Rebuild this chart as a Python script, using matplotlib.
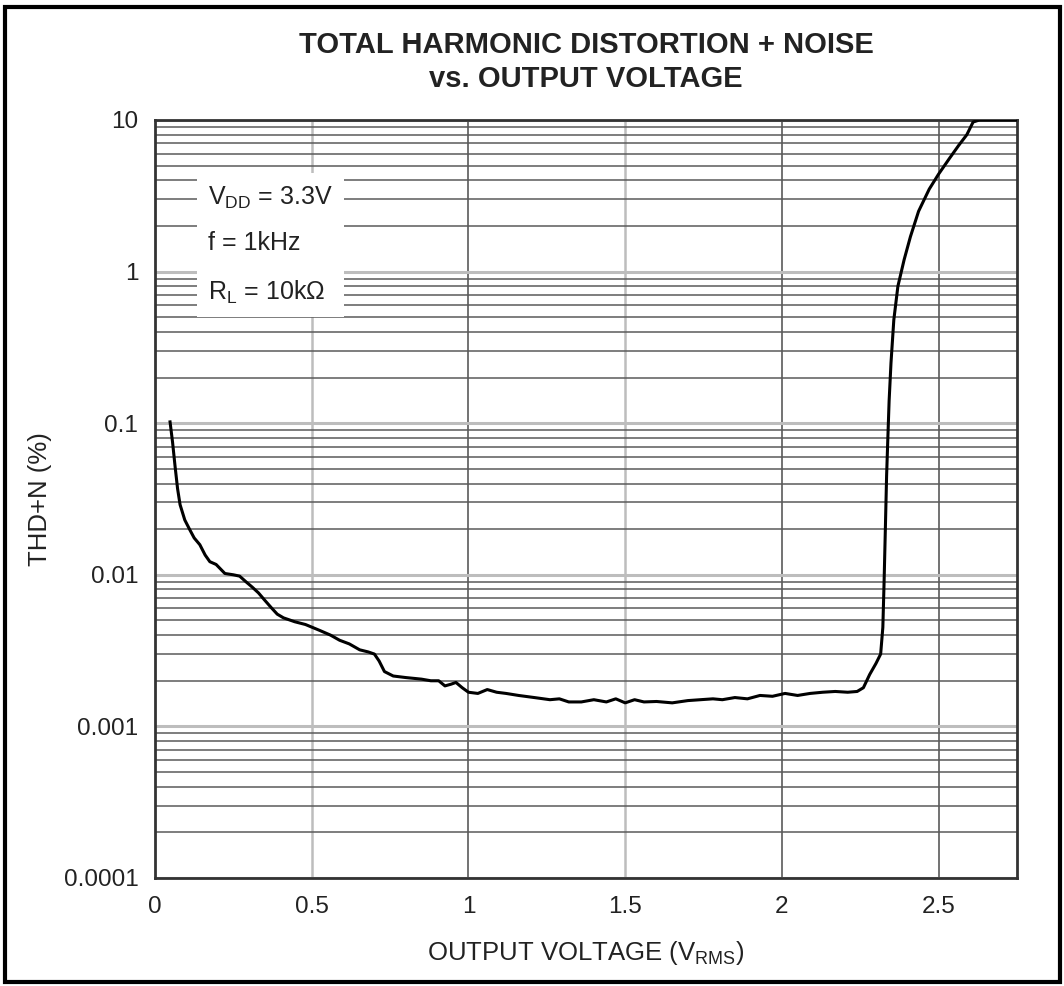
import numpy as np
import matplotlib
matplotlib.use('Agg')
import matplotlib.pyplot as plt
from matplotlib.patches import Rectangle
from matplotlib.ticker import LogLocator, NullFormatter, FixedLocator

plt.rcParams['font.family'] = ['Liberation Sans', 'DejaVu Sans']
plt.rcParams['mathtext.fontset'] = 'custom'
plt.rcParams['mathtext.rm'] = 'Liberation Sans'

# ---- data ----
vout = [0.048, 0.056, 0.064, 0.072, 0.08, 0.095, 0.11, 0.125, 0.143, 0.16, 0.175,
        0.195, 0.223, 0.25, 0.27, 0.29, 0.31, 0.33, 0.35, 0.37, 0.39, 0.41, 0.446,
        0.48, 0.525, 0.56, 0.589, 0.62, 0.653, 0.68, 0.70, 0.715, 0.732, 0.76, 0.80,
        0.85, 0.88, 0.905, 0.925, 0.945, 0.96, 0.98, 1.0, 1.03, 1.06, 1.09, 1.12,
        1.16, 1.21, 1.26, 1.29, 1.32, 1.36, 1.40, 1.44, 1.47, 1.50, 1.53, 1.56,
        1.60, 1.65, 1.70, 1.74, 1.78, 1.81, 1.85, 1.89, 1.93, 1.97, 2.01, 2.05,
        2.09, 2.13, 2.17, 2.21, 2.24, 2.26, 2.28, 2.30, 2.315, 2.322, 2.326,
        2.330, 2.334, 2.338, 2.342, 2.348, 2.357, 2.37, 2.39, 2.41, 2.436, 2.47,
        2.50, 2.535, 2.564, 2.59, 2.61, 2.63, 2.75]
thdn = [0.102, 0.075, 0.052, 0.037, 0.029, 0.023, 0.020, 0.0175, 0.0158, 0.0135,
        0.0122, 0.0117, 0.0102, 0.0100, 0.0098, 0.0090, 0.0083, 0.0076, 0.0068,
        0.0061, 0.0055, 0.0052, 0.0049, 0.0047, 0.0043, 0.0040, 0.0037, 0.0035,
        0.0032, 0.0031, 0.0030, 0.0027, 0.0023, 0.00215, 0.0021, 0.00205, 0.0020,
        0.0020, 0.00185, 0.0019, 0.00195, 0.0018, 0.00168, 0.00165, 0.00175,
        0.00168, 0.00165, 0.0016, 0.00155, 0.0015, 0.00152, 0.00145, 0.00145,
        0.0015, 0.00145, 0.00152, 0.00143, 0.0015, 0.00145, 0.00146, 0.00143,
        0.00148, 0.0015, 0.00152, 0.0015, 0.00155, 0.00152, 0.0016, 0.00158,
        0.00165, 0.0016, 0.00165, 0.00168, 0.0017, 0.00168, 0.0017, 0.0018,
        0.0022, 0.0026, 0.0030, 0.0045, 0.009, 0.02, 0.045, 0.08, 0.14, 0.25,
        0.48, 0.80, 1.2, 1.7, 2.5, 3.5, 4.4, 5.6, 6.8, 8.0, 9.7, 10.0, 10.0]

xticks = [0, 0.5, 1, 1.5, 2, 2.5]
xtick_labels = ['0', '0.5', '1', '1.5', '2', '2.5']
yticks = [0.0001, 0.001, 0.01, 0.1, 1, 10]
ytick_labels = ['0.0001', '0.001', '0.01', '0.1', '1', '10']

fig = plt.figure(figsize=(10.64, 9.86), dpi=100)
fig.patch.set_facecolor('white')
ax = fig.add_axes([155 / 1064, 1 - 878 / 986, (1017 - 155) / 1064, (878 - 120) / 986])

ax.set_yscale('log')
ax.set_xlim(0, 2.75)
ax.set_ylim(0.0001, 10)

# grid
ax.yaxis.set_major_locator(FixedLocator(yticks))
ax.yaxis.set_minor_locator(LogLocator(base=10, subs=np.arange(2, 10)))
ax.yaxis.set_minor_formatter(NullFormatter())
ax.grid(which='major', axis='y', color='#bdbdbd', lw=2.2)
ax.grid(which='minor', axis='y', color='#5a5a5a', lw=1.1)
vcolors = ['#bdbdbd', '#5a5a5a', '#bdbdbd', '#5a5a5a', '#5a5a5a']
for xv, c in zip(xticks[1:], vcolors):
    ax.axvline(xv, color=c, lw=1.8 if c == '#bdbdbd' else 1.2, zorder=0.5)

ax.plot(vout, thdn, color='black', lw=2.2, zorder=3)

ax.set_xticks(xticks)
ax.set_xticklabels(xtick_labels)
ax.set_yticks(yticks)
ax.set_yticklabels(ytick_labels)
ax.tick_params(which='both', length=0, labelsize=17.5, colors='#222222')
ax.tick_params(axis='y', pad=12)
ax.tick_params(axis='x', pad=13)
for s in ax.spines.values():
    s.set_linewidth(2)
    s.set_color('#333333')

ax.set_xlabel(r'OUTPUT VOLTAGE (V$_\mathregular{RMS}$)', fontsize=18.5, labelpad=15, color='#222222')
ax.set_ylabel('THD+N (%)', fontsize=18.5, labelpad=8, color='#222222')
ax.set_title('TOTAL HARMONIC DISTORTION + NOISE\nvs. OUTPUT VOLTAGE',
             fontsize=21, fontweight='bold', pad=24, linespacing=1.25, color='#222222')

ax.text(0.062, 0.835,
        'V$_\\mathregular{DD}$ = 3.3V\nf = 1kHz\nR$_\\mathregular{L}$ = 10k\u03a9',
        transform=ax.transAxes,
        fontsize=18, linespacing=2.1, va='center', ha='left', color='#222222', zorder=4,
        bbox=dict(boxstyle='square,pad=0.45', fc='white', ec='none'))

fig.patches.append(Rectangle((5 / 1064, 4 / 986), 1055 / 1064, 975 / 986,
                             transform=fig.transFigure, fill=False, lw=3, ec='black'))

plt.savefig('out.png', dpi=100)
